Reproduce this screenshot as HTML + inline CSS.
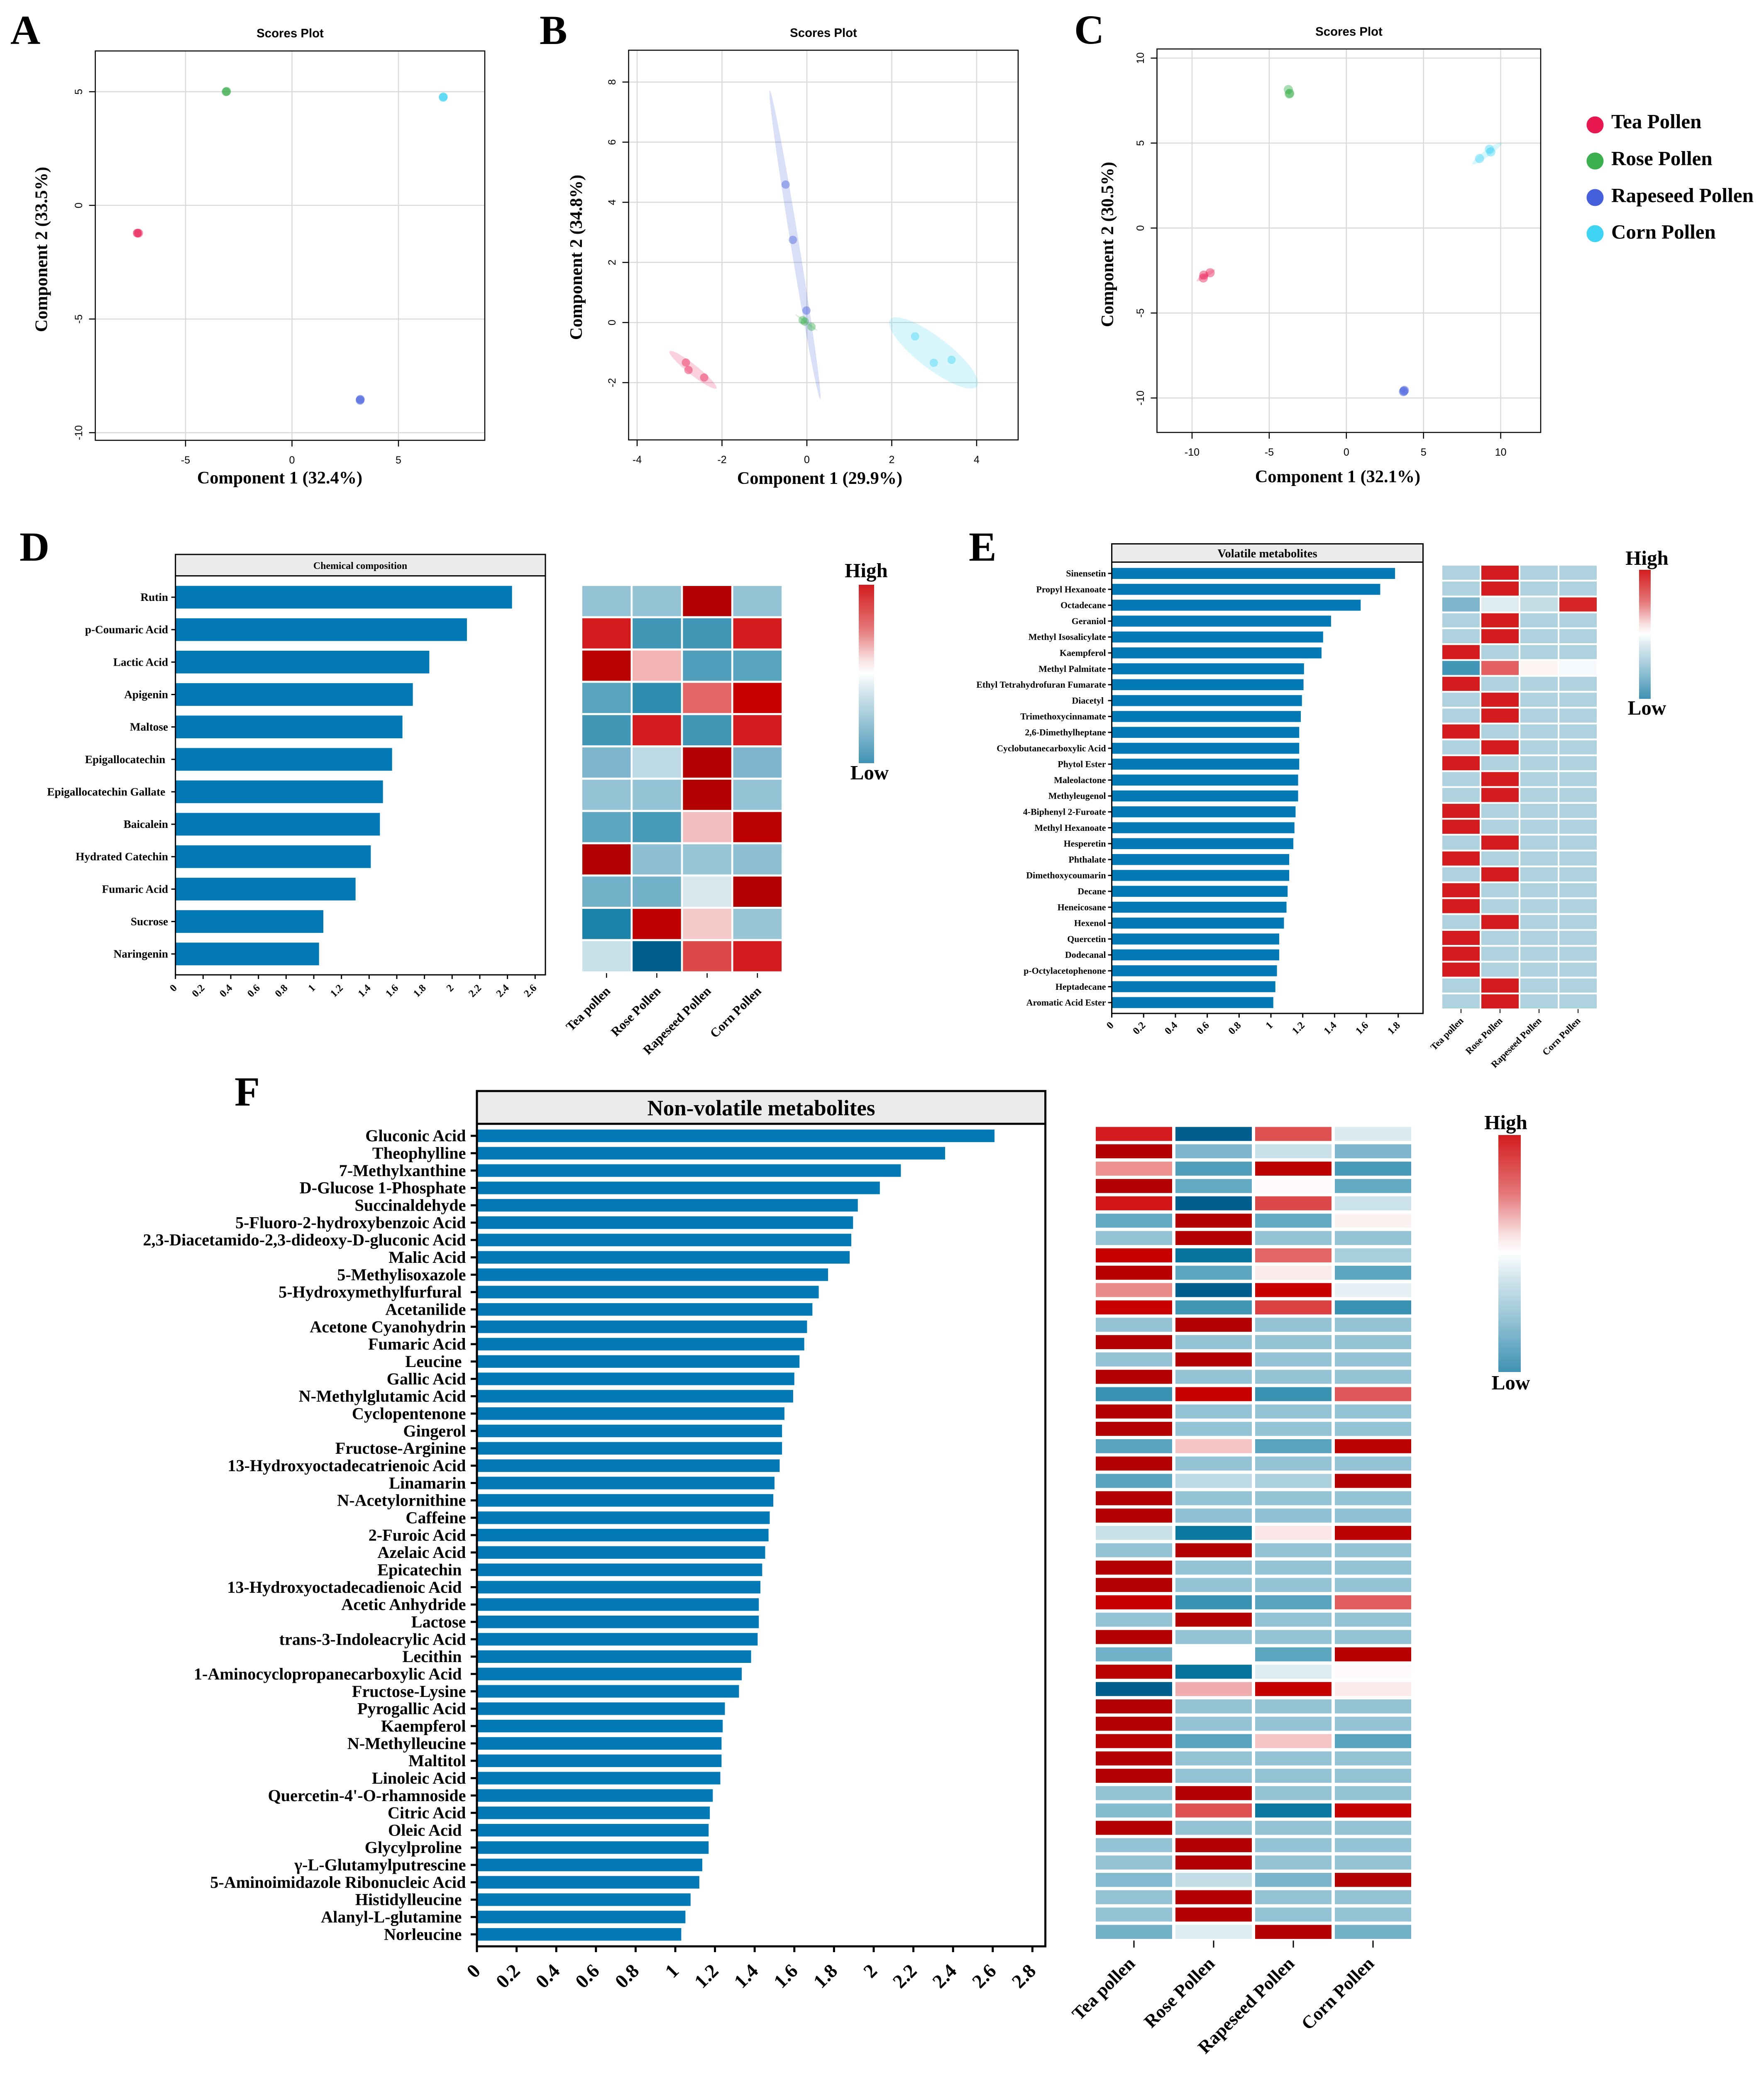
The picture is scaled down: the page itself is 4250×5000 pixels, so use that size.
<!DOCTYPE html>
<html lang="en">
<head>
<meta charset="utf-8">
<title>Pollen metabolomics figure</title>
<style>
html,body{margin:0;padding:0;background:#fff}
svg{display:block}
.serif{font-family:"Liberation Serif","DejaVu Serif",serif;font-weight:bold;fill:#000}
.sans{font-family:"Liberation Sans","DejaVu Sans",sans-serif;fill:#000}
.pre{white-space:pre}
</style>
</head>
<body>
<svg id="figure" xmlns="http://www.w3.org/2000/svg" width="4250" height="5000" viewBox="0 0 4250 5000">
<defs>
<linearGradient id="heat-gradient" x1="0" y1="0" x2="0" y2="1">
<stop offset="0" stop-color="#d31c1e"/><stop offset="0.25" stop-color="#e5787a"/><stop offset="0.42" stop-color="#f8e0e0"/><stop offset="0.495" stop-color="#ffffff"/><stop offset="0.6" stop-color="#d4e6ed"/><stop offset="0.75" stop-color="#a0c9d9"/><stop offset="1" stop-color="#4092b4"/>
</linearGradient>
</defs>
<rect x="0" y="0" width="4250" height="5000" fill="#fff"/>

<text class="serif" x="25" y="106" font-size="100">A</text>
<text class="serif" x="1300" y="106" font-size="100">B</text>
<text class="serif" x="2588" y="105" font-size="100">C</text>
<text class="serif" x="47" y="1351" font-size="100">D</text>
<text class="serif" x="2334" y="1351" font-size="100">E</text>
<text class="serif" x="565" y="2664" font-size="100">F</text>

<g id="panel-a"></g>
<g id="panel-b"></g>
<g id="panel-c"></g>

<g>
<circle cx="3843" cy="301" r="20.5" fill="#e8174f"/>
<text class="serif" x="3882" y="309" font-size="49">Tea Pollen</text>
<circle cx="3843" cy="388" r="20.5" fill="#3cb04e"/>
<text class="serif" x="3882" y="398" font-size="49">Rose Pollen</text>
<circle cx="3843" cy="476" r="20.5" fill="#4660dc"/>
<text class="serif" x="3882" y="487" font-size="49.2">Rapeseed Pollen</text>
<circle cx="3843" cy="563" r="20.5" fill="#40d4f4"/>
<text class="serif" x="3882" y="575" font-size="49">Corn Pollen</text>
</g>

<g id="panel-d"></g>
<g id="panel-e"></g>
<g id="panel-f"></g>

<g>
<rect x="2069" y="1409" width="37" height="430" fill="url(#heat-gradient)"/>
<text class="serif" x="2087" y="1391" font-size="49" text-anchor="middle">High</text>
<text class="serif" x="2095" y="1878" font-size="49" text-anchor="middle">Low</text>
</g>
<g>
<rect x="3949" y="1373" width="28" height="311" fill="url(#heat-gradient)"/>
<text class="serif" x="3968" y="1361" font-size="49" text-anchor="middle">High</text>
<text class="serif" x="3968" y="1722" font-size="49" text-anchor="middle">Low</text>
</g>
<g>
<rect x="3610" y="2735" width="54" height="571" fill="url(#heat-gradient)"/>
<text class="serif" x="3628" y="2721" font-size="49" text-anchor="middle">High</text>
<text class="serif" x="3640" y="3348" font-size="49" text-anchor="middle">Low</text>
</g>
</svg>

<script>
/* ---------- scatter data ---------- */
const groupColors = ['#e8174f', '#3cb04e', '#4660dc', '#40d4f4'];
const groupNames = ['tea', 'rose', 'rapeseed', 'corn'];

const scoresAXTicks = [-5, 0, 5];
const scoresAYTicks = [-10, -5, 0, 5];
const scoresAX = [[-7.27, -7.25, -7.2], [-3.1, -3.08, -3.07], [3.2, 3.2, 3.21], [7.1, 7.1, 7.11]];
const scoresAY = [[-1.22, -1.22, -1.22], [5.0, 5.0, 5.02], [-8.55, -8.58, -8.53], [4.76, 4.75, 4.78]];

const scoresBXTicks = [-4, -2, 0, 2, 4];
const scoresBYTicks = [-2, 0, 2, 4, 6, 8];
const scoresBX = [[-2.85, -2.79, -2.42], [-0.10, -0.05, 0.11], [-0.50, -0.33, -0.01], [2.55, 2.99, 3.41]];
const scoresBY = [[-1.33, -1.58, -1.83], [0.08, 0.03, -0.14], [4.59, 2.75, 0.40], [-0.46, -1.34, -1.24]];
const ellipseBStart = [[-3.236, -0.957], [-0.276, 0.275], [-0.876, 7.72], [1.963, 0.099]];
const ellipseBEnd = [[-2.133, -2.189], [0.251, -0.275], [0.316, -2.55], [4.006, -2.123]];

const scoresCXTicks = [-10, -5, 0, 5, 10];
const scoresCYTicks = [-10, -5, 0, 5, 10];
const scoresCX = [[-8.83, -9.24, -9.27], [-3.76, -3.67, -3.70], [3.76, 3.70, 3.73], [9.27, 9.36, 8.63]];
const scoresCY = [[-2.63, -2.77, -2.94], [8.15, 7.93, 7.89], [-9.55, -9.63, -9.59], [4.64, 4.48, 4.09]];
const ellipseCStart = [[-9.71, -3.12], [-3.78, 8.2], [3.68, -9.7], [8.16, 3.76]];
const ellipseCEnd = [[-8.51, -2.44], [-3.66, 7.85], [3.8, -9.45], [10.06, 5.03]];

/* ---------- bar + heatmap data ---------- */
const heatColumns = ['Tea pollen', 'Rose Pollen', 'Rapeseed Pollen', 'Corn Pollen'];

const chemicalNames = ['Rutin', 'p-Coumaric Acid', 'Lactic Acid', 'Apigenin', 'Maltose', 'Epigallocatechin ', 'Epigallocatechin Gallate ', 'Baicalein', 'Hydrated Catechin', 'Fumaric Acid', 'Sucrose', 'Naringenin'];
const chemicalValues = [2.433, 2.107, 1.835, 1.716, 1.641, 1.566, 1.50, 1.478, 1.412, 1.302, 1.069, 1.038];
const chemicalTicks = ['0', '0.2', '0.4', '0.6', '0.8', '1', '1.2', '1.4', '1.6', '1.8', '2', '2.2', '2.4', '2.6'];
const chemicalHeat = [
[-.4, -.4, 1, -.4],
[.8, -.7, -.7, .8],
[.96, .28, -.65, -.62],
[-.62, -.75, .55, .9],
[-.7, .8, -.7, .8],
[-.48, -.25, 1, -.48],
[-.4, -.4, 1, -.4],
[-.6, -.68, .24, .96],
[1, -.43, -.38, -.43],
[-.52, -.52, -.15, 1],
[-.8, .95, .2, -.38],
[-.2, -1, .65, .8]
];

const volatileNames = ['Sinensetin', 'Propyl Hexanoate', 'Octadecane', 'Geraniol', 'Methyl Isosalicylate', 'Kaempferol', 'Methyl Palmitate', 'Ethyl Tetrahydrofuran Fumarate', 'Diacetyl ', 'Trimethoxycinnamate', '2,6-Dimethylheptane', 'Cyclobutanecarboxylic Acid', 'Phytol Ester', 'Maleolactone', 'Methyleugenol', '4-Biphenyl 2-Furoate', 'Methyl Hexanoate', 'Hesperetin', 'Phthalate', 'Dimethoxycoumarin', 'Decane', 'Heneicosane', 'Hexenol', 'Quercetin', 'Dodecanal', 'p-Octylacetophenone', 'Heptadecane', 'Aromatic Acid Ester'];
const volatileValues = [1.780, 1.687, 1.564, 1.378, 1.328, 1.318, 1.208, 1.205, 1.195, 1.188, 1.178, 1.178, 1.178, 1.171, 1.171, 1.155, 1.148, 1.141, 1.115, 1.115, 1.105, 1.098, 1.082, 1.052, 1.052, 1.038, 1.028, 1.015];
const volatileTicks = ['0', '0.2', '0.4', '0.6', '0.8', '1', '1.2', '1.4', '1.6', '1.8'];
const volatileHeat = [
[-.3, .8, -.3, -.3],
[-.3, .8, -.3, -.3],
[-.48, -.12, -.22, .77],
[-.3, .8, -.3, -.3],
[-.3, .8, -.3, -.3],
[.8, -.3, -.3, -.3],
[-.7, .57, .04, -.03],
[.8, -.3, -.3, -.3],
[-.3, .8, -.3, -.3],
[-.3, .8, -.3, -.3],
[.8, -.3, -.3, -.3],
[-.3, .8, -.3, -.3],
[.8, -.3, -.3, -.3],
[-.3, .8, -.3, -.3],
[-.3, .8, -.3, -.3],
[.8, -.3, -.3, -.3],
[.8, -.3, -.3, -.3],
[-.3, .8, -.3, -.3],
[.8, -.3, -.3, -.3],
[-.3, .8, -.3, -.3],
[.8, -.3, -.3, -.3],
[.8, -.3, -.3, -.3],
[-.3, .8, -.3, -.3],
[.8, -.3, -.3, -.3],
[.8, -.3, -.3, -.3],
[.8, -.3, -.3, -.3],
[-.3, .8, -.3, -.3],
[-.3, .8, -.3, -.3]
];

const nonVolatileNames = ['Gluconic Acid', 'Theophylline', '7-Methylxanthine', 'D-Glucose 1-Phosphate', 'Succinaldehyde', '5-Fluoro-2-hydroxybenzoic Acid', '2,3-Diacetamido-2,3-dideoxy-D-gluconic Acid', 'Malic Acid', '5-Methylisoxazole', '5-Hydroxymethylfurfural ', 'Acetanilide', 'Acetone Cyanohydrin', 'Fumaric Acid', 'Leucine ', 'Gallic Acid', 'N-Methylglutamic Acid', 'Cyclopentenone', 'Gingerol', 'Fructose-Arginine', '13-Hydroxyoctadecatrienoic Acid', 'Linamarin', 'N-Acetylornithine', 'Caffeine', '2-Furoic Acid', 'Azelaic Acid', 'Epicatechin ', '13-Hydroxyoctadecadienoic Acid ', 'Acetic Anhydride', 'Lactose', 'trans-3-Indoleacrylic Acid', 'Lecithin ', '1-Aminocyclopropanecarboxylic Acid ', 'Fructose-Lysine', 'Pyrogallic Acid', 'Kaempferol', 'N-Methylleucine', 'Maltitol', 'Linoleic Acid', "Quercetin-4'-O-rhamnoside", 'Citric Acid', 'Oleic Acid ', 'Glycylproline ', '\u03b3-L-Glutamylputrescine', '5-Aminoimidazole Ribonucleic Acid', 'Histidylleucine ', 'Alanyl-L-glutamine ', 'Norleucine '];
const nonVolatileValues = [2.609, 2.360, 2.137, 2.031, 1.920, 1.896, 1.887, 1.879, 1.770, 1.723, 1.691, 1.664, 1.650, 1.626, 1.600, 1.594, 1.550, 1.538, 1.538, 1.526, 1.500, 1.494, 1.476, 1.470, 1.453, 1.438, 1.429, 1.421, 1.421, 1.415, 1.382, 1.335, 1.321, 1.250, 1.239, 1.233, 1.233, 1.227, 1.189, 1.174, 1.168, 1.168, 1.136, 1.121, 1.077, 1.051, 1.030];
const nonVolatileTicks = ['0', '0.2', '0.4', '0.6', '0.8', '1', '1.2', '1.4', '1.6', '1.8', '2', '2.2', '2.4', '2.6', '2.8'];
const nonVolatileHeat = [
[.8, -1, .62, -.13],
[1, -.48, -.2, -.48],
[.4, -.65, .96, -.68],
[1, -.58, .02, -.58],
[.82, -1, .65, -.19],
[-.58, 1, -.58, .05],
[-.4, 1, -.4, -.4],
[.9, -.88, .55, -.33],
[.97, -.6, .08, -.6],
[.42, -1, .9, -.09],
[.9, -.7, .68, -.72],
[-.4, 1, -.4, -.4],
[1, -.4, -.4, -.4],
[-.4, 1, -.4, -.4],
[1, -.4, -.4, -.4],
[-.72, .9, -.72, .6],
[1, -.4, -.4, -.4],
[1, -.4, -.4, -.4],
[-.62, .22, -.62, .96],
[1, -.4, -.4, -.4],
[-.62, -.25, -.32, 1],
[1, -.4, -.4, -.4],
[1, -.42, -.42, -.42],
[-.2, -.85, .09, .96],
[-.4, 1, -.4, -.4],
[1, -.4, -.4, -.4],
[1, -.4, -.4, -.4],
[.9, -.72, -.62, .58],
[-.4, 1, -.4, -.4],
[1, -.4, -.4, -.4],
[-.52, 0, -.6, .98],
[.96, -.88, -.12, .02],
[-1, .3, .92, .08],
[1, -.4, -.4, -.4],
[1, -.4, -.4, -.4],
[.96, -.62, .22, -.62],
[1, -.4, -.4, -.4],
[1, -.4, -.4, -.4],
[-.4, 1, -.4, -.4],
[-.45, .62, -.85, .92],
[1, -.4, -.4, -.4],
[-.4, 1, -.4, -.4],
[-.4, 1, -.4, -.4],
[-.46, -.23, -.5, 1],
[-.4, 1, -.4, -.4],
[-.4, 1, -.4, -.4],
[-.52, -.12, 1, -.52]
];

/* ---------- helpers ---------- */
const NS = 'http://www.w3.org/2000/svg';
function make(tag, attrs, parent, text) {
  const node = document.createElementNS(NS, tag);
  for (const k in attrs) node.setAttribute(k, attrs[k]);
  if (text !== undefined) node.textContent = text;
  parent.appendChild(node);
  return node;
}
function linear(d0, d1, r0, r1) {
  return v => r0 + (v - d0) * (r1 - r0) / (d1 - d0);
}
function mix(a, b, t) {
  const pa = [1, 3, 5].map(i => parseInt(a.substr(i, 2), 16));
  const pb = [1, 3, 5].map(i => parseInt(b.substr(i, 2), 16));
  return 'rgb(' + pa.map((c, i) => Math.round(c + (pb[i] - c) * t)).join(',') + ')';
}
const redStops = [[0, '#ffffff'], [.22, '#f4c4c4'], [.4, '#ec9090'], [.6, '#e0585a'], [.8, '#d41c1e'], [.9, '#c80000'], [1, '#b30000']];
const blueStops = [[0, '#ffffff'], [.2, '#c8e0e8'], [.3, '#afd2df'], [.4, '#94c3d5'], [.7, '#4297b6'], [.85, '#0a78a0'], [1, '#005f8e']];
function heatColor(v) {
  const stops = v >= 0 ? redStops : blueStops;
  const t = Math.min(1, Math.abs(v));
  for (let i = 1; i < stops.length; i++) {
    if (t <= stops[i][0]) return mix(stops[i - 1][1], stops[i][1], (t - stops[i - 1][0]) / (stops[i][0] - stops[i - 1][0]));
  }
  return stops[stops.length - 1][1];
}

/* ---------- scatter panels ---------- */
function drawScatter(id, cfg) {
  const g = document.getElementById(id);
  const sx = linear(cfg.dx[0], cfg.dx[1], cfg.rx[0], cfg.rx[1]);
  const sy = linear(cfg.dy[0], cfg.dy[1], cfg.ry[0], cfg.ry[1]);

  cfg.xTicks.forEach(t => {
    const grid = make('line', {x1: sx(t), x2: sx(t), y1: cfg.box[1], y2: cfg.box[3], stroke: '#d9d9d9', 'stroke-width': 2.5}, g);
    
    
  });
  cfg.yTicks.forEach(t => {
    const grid = make('line', {x1: cfg.box[0], x2: cfg.box[2], y1: sy(t), y2: sy(t), stroke: '#d9d9d9', 'stroke-width': 2.5}, g);
    
    
  });

  (cfg.eStart || []).forEach((s, i) => {
    const x1 = sx(s[0]), y1 = sy(s[1]), x2 = sx(cfg.eEnd[i][0]), y2 = sy(cfg.eEnd[i][1]);
    const cx = (x1 + x2) / 2, cy = (y1 + y2) / 2;
    const a = Math.hypot(x2 - x1, y2 - y1) / 2;
    const ang = Math.atan2(y2 - y1, x2 - x1) * 180 / Math.PI;
    const ell = make('ellipse', {cx: cx, cy: cy, rx: a, ry: cfg.eMinor[i], fill: groupColors[i], 'fill-opacity': .2, transform: 'rotate(' + ang + ' ' + cx + ' ' + cy + ')'}, g);
    
    
  });

  cfg.xs.forEach((xsGroup, i) => {
    xsGroup.forEach((v, j) => {
      const pt = make('circle', {cx: sx(v), cy: sy(cfg.ys[i][j]), r: cfg.r, fill: groupColors[i], 'fill-opacity': .44}, g);
      
      
    });
  });

  const frame = make('rect', {x: cfg.box[0], y: cfg.box[1], width: cfg.box[2] - cfg.box[0], height: cfg.box[3] - cfg.box[1], fill: 'none', stroke: '#000', 'stroke-width': 2.5}, g);
  
  

  cfg.xTicks.forEach(t => {
    const tick = make('line', {x1: sx(t), x2: sx(t), y1: cfg.box[3], y2: cfg.box[3] + 15, stroke: '#000', 'stroke-width': 2.5}, g);
    
    
    const lab = make('text', {x: sx(t), y: cfg.xLabelY, 'font-size': 25, 'text-anchor': 'middle', class: 'sans'}, g, String(t));
    
    
  });
  cfg.yTicks.forEach(t => {
    const tick = make('line', {x1: cfg.box[0] - 15, x2: cfg.box[0], y1: sy(t), y2: sy(t), stroke: '#000', 'stroke-width': 2.5}, g);
    
    
    const lab = make('text', {x: cfg.yLabelX, y: sy(t), 'font-size': 25, 'text-anchor': 'middle', class: 'sans', transform: 'rotate(-90 ' + cfg.yLabelX + ' ' + sy(t) + ')'}, g, String(t));
    
    
  });

  const title = make('text', {x: cfg.title[0], y: cfg.title[1], 'font-size': 29.4, 'font-weight': 'bold', 'text-anchor': 'middle', class: 'sans'}, g, 'Scores Plot');
  
  
  const xt = make('text', {x: cfg.xTitle[0], y: cfg.xTitle[1], 'font-size': 42.3, 'text-anchor': 'middle', class: 'serif'}, g, cfg.xText);
  
  
  const yt = make('text', {x: cfg.yTitle[0], y: cfg.yTitle[1], 'font-size': 42.3, 'text-anchor': 'middle', class: 'serif', transform: 'rotate(-90 ' + cfg.yTitle[0] + ' ' + cfg.yTitle[1] + ')'}, g, cfg.yText);
  
  
}

drawScatter('panel-a', {
  dx: [-5, 5], rx: [447, 960], dy: [-10, 5], ry: [1042.6, 221], box: [229.6, 122.8, 1168, 1061],
  xTicks: scoresAXTicks, yTicks: scoresAYTicks, xs: scoresAX, ys: scoresAY, r: 10.5,
  xLabelY: 1117, yLabelX: 198, title: [699, 90], xTitle: [674, 1165], yTitle: [113.6, 601],
  xText: 'Component 1 (32.4%)', yText: 'Component 2 (33.5%)'
});
drawScatter('panel-b', {
  dx: [-4, 4], rx: [1535, 2353], dy: [-2, 8], ry: [922, 197.7], box: [1514.5, 121, 2453, 1060],
  xTicks: scoresBXTicks, yTicks: scoresBYTicks, xs: scoresBX, ys: scoresBY, r: 10,
  eStart: ellipseBStart, eEnd: ellipseBEnd, eMinor: [12, 2.5, 10, 38],
  xLabelY: 1116, yLabelX: 1483, title: [1984, 89], xTitle: [1975, 1166], yTitle: [1402, 620],
  xText: 'Component 1 (29.9%)', yText: 'Component 2 (34.8%)'
});
drawScatter('panel-c', {
  dx: [-10, 10], rx: [2872, 3615.6], dy: [-10, 10], ry: [959, 140], box: [2787.5, 118, 3712, 1042],
  xTicks: scoresCXTicks, yTicks: scoresCYTicks, xs: scoresCX, ys: scoresCY, r: 11,
  eStart: ellipseCStart, eEnd: ellipseCEnd, eMinor: [5, 4, 4, 8],
  xLabelY: 1098, yLabelX: 2756, title: [3250, 86], xTitle: [3223, 1162], yTitle: [2682, 589],
  xText: 'Component 1 (32.1%)', yText: 'Component 2 (30.5%)'
});

/* ---------- bar + heatmap panels ---------- */
function drawBarPanel(id, cfg) {
  const g = document.getElementById(id);
  const sx = linear(0, 1, cfg.x0, cfg.x0 + cfg.perUnit);
  const bandY = i => cfg.barTop + i * cfg.barStep;

  const strip = make('rect', {x: cfg.left, y: cfg.top, width: cfg.right - cfg.left, height: cfg.stripBottom - cfg.top, fill: '#ebebeb', stroke: '#000', 'stroke-width': cfg.lw}, g);
  
  
  const stripText = make('text', {x: cfg.stripX, y: cfg.stripY, 'font-size': cfg.stripSize, 'text-anchor': 'middle', class: 'serif'}, g, cfg.stripText);
  
  

  cfg.values.forEach((v, i) => {
    const bar = make('rect', {x: cfg.x0, y: bandY(i), width: sx(v) - cfg.x0, height: cfg.barH, fill: '#037ab5'}, g);
    
    
    const cy = bandY(i) + cfg.barH / 2;
    const tick = make('line', {x1: cfg.left - cfg.yTickLen, x2: cfg.left, y1: cy, y2: cy, stroke: '#000', 'stroke-width': cfg.lw}, g);
    
    
    const lab = make('text', {x: cfg.labelX, y: cy + cfg.labelSize * .33, 'font-size': cfg.labelSize, 'text-anchor': 'end', class: 'serif pre'}, g, cfg.names[i]);
    
    
  });

  const frame = make('path', {d: 'M' + cfg.left + ' ' + cfg.stripBottom + 'V' + cfg.bottom + 'H' + cfg.right + 'V' + cfg.stripBottom, fill: 'none', stroke: '#000', 'stroke-width': cfg.lw}, g);
  
  

  cfg.ticks.forEach(t => {
    const px = sx(parseFloat(t));
    const tick = make('line', {x1: px, x2: px, y1: cfg.bottom, y2: cfg.bottom + cfg.xTickLen, stroke: '#000', 'stroke-width': cfg.lw}, g);
    
    
    const lx = px + cfg.tickDx, ly = cfg.bottom + cfg.tickDy;
    const lab = make('text', {x: lx, y: ly, 'font-size': cfg.tickSize, 'text-anchor': 'end', class: 'serif', transform: 'rotate(-45 ' + lx + ' ' + ly + ')'}, g, t);
    
    
  });

  cfg.heat.forEach((row, r) => {
    row.forEach((v, c) => {
      const cell = make('rect', {x: cfg.hx + c * cfg.hStepX, y: cfg.hy + r * cfg.hStepY, width: cfg.hw, height: cfg.hh, fill: heatColor(v)}, g);
      
      
    });
  });
  heatColumns.forEach((name, c) => {
    const cx = cfg.hx + c * cfg.hStepX + cfg.hw / 2;
    const tick = make('line', {x1: cx, x2: cx, y1: cfg.hTickTop, y2: cfg.hTickBottom, stroke: '#000', 'stroke-width': cfg.hTickW}, g);
    
    
    const lx = cx + cfg.hLabelDx, ly = cfg.hLabelY;
    const lab = make('text', {x: lx, y: ly, 'font-size': cfg.hLabelSize, 'text-anchor': 'end', class: 'serif', transform: 'rotate(-45 ' + lx + ' ' + ly + ')'}, g, name);
    
    
  });
}

drawBarPanel('panel-d', {
  names: chemicalNames, values: chemicalValues, ticks: chemicalTicks, heat: chemicalHeat,
  left: 422.7, right: 1314, top: 1336, stripBottom: 1387.6, bottom: 2349, lw: 3,
  x0: 422.7, perUnit: 333.3, barTop: 1411.7, barStep: 78.15, barH: 54.7,
  yTickLen: 10, xTickLen: 10, labelX: 405, labelSize: 27.2, tickSize: 25, tickDx: 5, tickDy: 33,
  stripX: 868, stripY: 1371, stripSize: 23.9, stripText: 'Chemical composition',
  hx: 1403, hStepX: 121.2, hw: 116.5, hy: 1412, hStepY: 77.8, hh: 72.8,
  hTickTop: 2345, hTickBottom: 2356, hTickW: 2.5, hLabelDx: 11, hLabelY: 2390, hLabelSize: 31
});
drawBarPanel('panel-e', {
  names: volatileNames, values: volatileValues, ticks: volatileTicks, heat: volatileHeat,
  left: 2678.6, right: 3428.5, top: 1310.5, stripBottom: 1354.5, bottom: 2442, lw: 3,
  x0: 2678.6, perUnit: 383.4, barTop: 1368.5, barStep: 38.3, barH: 26.5,
  yTickLen: 9, xTickLen: 10, labelX: 2664.5, labelSize: 21.9, tickSize: 25, tickDx: 6, tickDy: 30,
  stripX: 3053.5, stripY: 1343, stripSize: 28.7, stripText: 'Volatile metabolites',
  hx: 3475, hStepX: 94, hw: 90, hy: 1363, hStepY: 38.26, hh: 34,
  hTickTop: 2431.5, hTickBottom: 2441, hTickW: 2, hLabelDx: 7, hLabelY: 2461, hLabelSize: 23
});
drawBarPanel('panel-f', {
  names: nonVolatileNames, values: nonVolatileValues, ticks: nonVolatileTicks, heat: nonVolatileHeat,
  left: 1149, right: 2518.6, top: 2629, stripBottom: 2708, bottom: 4690, lw: 5,
  x0: 1149, perUnit: 478, barTop: 2721.8, barStep: 41.83, barH: 30.3,
  yTickLen: 15, xTickLen: 14, labelX: 1122.5, labelSize: 40.2, tickSize: 47, tickDx: 11, tickDy: 62,
  stripX: 1834, stripY: 2687.5, stripSize: 53, stripText: 'Non-volatile metabolites',
  hx: 2640, hStepX: 192, hw: 184, hy: 2715.5, hStepY: 41.8, hh: 33.8,
  hTickTop: 4676, hTickBottom: 4693, hTickW: 3, hLabelDx: 5, hLabelY: 4734, hLabelSize: 44
});
</script>
</body>
</html>
